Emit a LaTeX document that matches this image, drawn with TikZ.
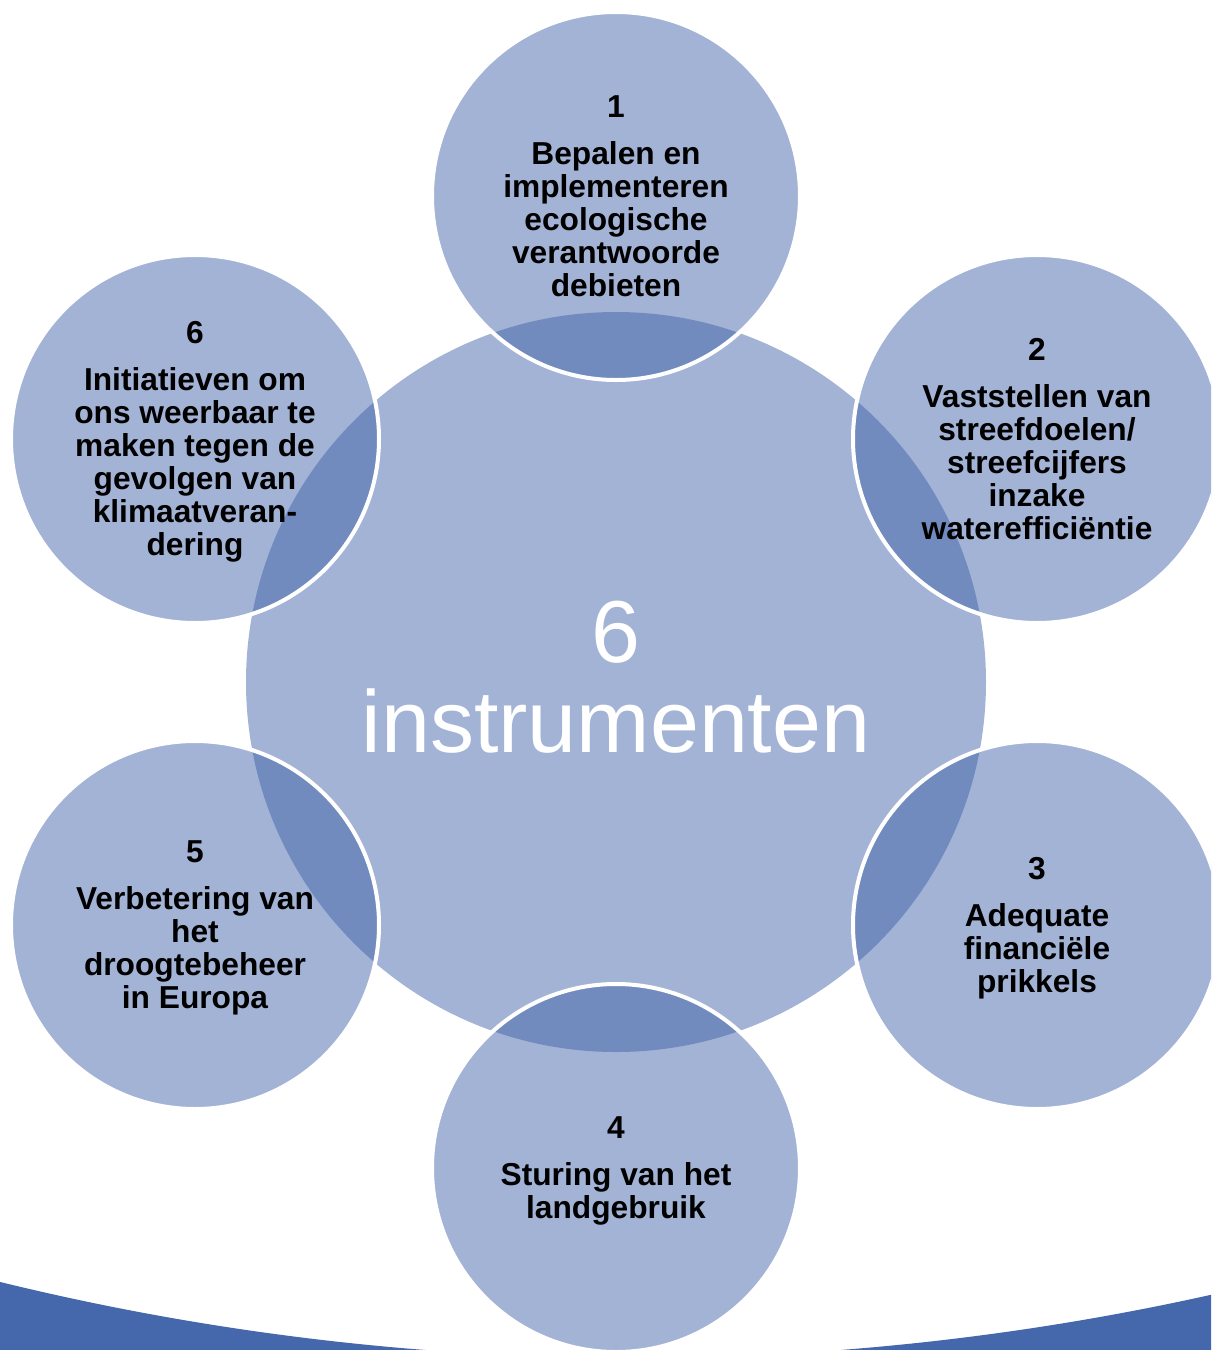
\documentclass[tikz,border=0pt]{standalone}
\usepackage{fontspec}
\setmainfont{Liberation Sans}
\definecolor{lightc}{HTML}{A3B3D6}
\definecolor{darkc}{HTML}{728BBF}
\definecolor{bandc}{HTML}{4567AB}
\tikzset{
  ring/.style={circle, minimum size=368pt, inner sep=0pt, outer sep=0pt, fill=lightc},
  hub/.style={circle, minimum size=740pt, inner sep=0pt, outer sep=0pt, fill=lightc},
  itemtext/.style={align=center, text=black, inner sep=0pt,
    font=\fontsize{31.7}{33}\selectfont\bfseries},
  hubtext/.style={align=center, text=white, inner sep=0pt,
    font=\fontsize{88}{90}\selectfont}
}
\begin{document}
\begin{tikzpicture}[x=1pt,y=-1pt]
\useasboundingbox (0,0) rectangle (1211,1350);
\clip (0,0) rectangle (1211,1350);
% bottom band
\begin{scope}
  \clip (-5,1262) rectangle (1216,1355);
  \fill[bandc, even odd rule] (-10,1250) rectangle (1221,1365) (633,-1292) circle (2650pt);
\end{scope}
% hub and ring circles
\node[hub] (c0) at (616,682) {};
\node[ring] (c1) at (616,196) {};
\node[ring] (c2) at (1037,439) {};
\node[ring] (c3) at (1037,925) {};
\node[ring] (c4) at (616,1168) {};
\node[ring] (c5) at (195,925) {};
\node[ring] (c6) at (195,439) {};
% overlaps
\begin{scope}
  \clip (c0.center) circle (370pt);
  \foreach \c in {c1,c2,c3,c4,c5,c6}{
    \fill[darkc] (\c.center) circle (184pt);
  }
\end{scope}
% white outlines of ring circles
\foreach \c in {c1,c2,c3,c4,c5,c6}{
  \draw[white, line width=4pt] (\c.center) circle (184pt);
}
% texts
\node[hubtext] (t0) at (616,677.5) {6\\instrumenten};
\node[itemtext] (t1) at (c1.center) {1\\[14pt]Bepalen en\\implementeren\\ecologische\\verantwoorde\\debieten};
\node[itemtext] (t2) at (c2.center) {2\\[14pt]Vaststellen van\\streefdoelen/\\streefcijfers\\inzake\\waterefficiëntie};
\node[itemtext] (t3) at ([yshift=-3pt]c3.center) {3\\[14pt]Adequate\\financiële\\prikkels};
\node[itemtext] (t4) at ([yshift=-3pt]c4.center) {4\\[14pt]Sturing van het\\landgebruik};
\node[itemtext] (t5) at ([yshift=-3pt]c5.center) {5\\[14pt]Verbetering van\\het\\droogtebeheer\\in Europa};
\node[itemtext] (t6) at ([yshift=-3pt]c6.center) {6\\[14pt]Initiatieven om\\ons weerbaar te\\maken tegen de\\gevolgen van\\klimaatveran-\\dering};
\end{tikzpicture}
\end{document}
